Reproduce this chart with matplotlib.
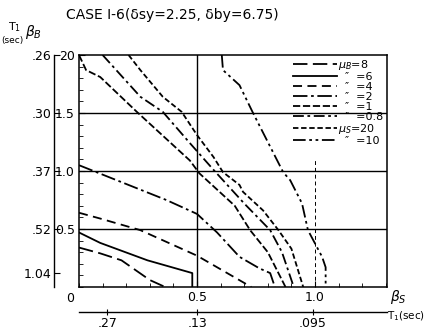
import matplotlib
matplotlib.use("Agg")
import matplotlib.pyplot as plt
from matplotlib.ticker import MultipleLocator

# ---- data ----
mu_b8_x = [0.0, 0.09, 0.18, 0.30, 0.365]
mu_b8_y = [0.34, 0.29, 0.23, 0.06, 0.0]

mu_b6_x = [0.0, 0.09, 0.29, 0.48, 0.48]
mu_b6_y = [0.47, 0.38, 0.23, 0.12, 0.0]

mu_b4_x = [0.0, 0.09, 0.26, 0.50, 0.73]
mu_b4_y = [0.64, 0.59, 0.49, 0.27, 0.0]

mu_b2_x = [0.0, 0.37, 0.50, 0.585, 0.68, 0.765, 0.81, 0.83]
mu_b2_y = [1.05, 0.75, 0.63, 0.47, 0.26, 0.16, 0.12, 0.0]

mu_b1_x = [0.0, 0.03, 0.09, 0.245, 0.47, 0.51, 0.66, 0.725, 0.80, 0.875]
mu_b1_y = [2.0, 1.87, 1.81, 1.51, 1.09, 0.98, 0.70, 0.49, 0.30, 0.0]

mu_b08_x = [0.10, 0.26, 0.355, 0.47, 0.57, 0.70, 0.81, 0.86, 0.91]
mu_b08_y = [2.0, 1.64, 1.51, 1.24, 1.01, 0.72, 0.49, 0.30, 0.0]

mu_s20_x = [0.21, 0.26, 0.355, 0.435, 0.50, 0.57, 0.61, 0.68, 0.695, 0.78, 0.845, 0.90, 0.95]
mu_s20_y = [2.0, 1.87, 1.64, 1.51, 1.31, 1.12, 0.99, 0.88, 0.82, 0.66, 0.49, 0.33, 0.0]

mu_s10_x = [0.605, 0.61, 0.68, 0.735, 0.865, 0.895, 0.945, 0.97, 1.03, 1.045, 1.045]
mu_s10_y = [2.0, 1.87, 1.74, 1.51, 0.99, 0.92, 0.72, 0.49, 0.26, 0.17, 0.0]

series = [
    (mu_b8_x, mu_b8_y, r"$\mu_B$=8", (0, (8, 3))),
    (mu_b6_x, mu_b6_y, "  \u2033  =6", "-"),
    (mu_b4_x, mu_b4_y, "  \u2033  =4", (0, (5, 3))),
    (mu_b2_x, mu_b2_y, "  \u2033  =2", (0, (8, 2, 1.5, 2))),
    (mu_b1_x, mu_b1_y, "  \u2033  =1", (0, (4, 1.5))),
    (mu_b08_x, mu_b08_y, "  \u2033  =0.8", (0, (6, 2, 1.5, 2))),
    (mu_s20_x, mu_s20_y, r"$\mu_S$=20", (0, (3, 1.5))),
    (mu_s10_x, mu_s10_y, "  \u2033  =10", (0, (7, 2, 1.5, 2, 1.5, 2))),
]

y_ticks = [0.5, 1.0, 1.5, 2.0]
y_ticklabels = ["0.5", "1.0", "1.5", "20"]
x_ticks = [0.5, 1.0]
x_ticklabels = ["0.5", "1.0"]
t_left_ticks = [2.0, 1.5, 1.0, 0.5, 0.12]
t_left_labels = [".26", ".30", ".37", ".52", "1.04"]
t_bottom_ticks = [0.12, 0.5, 0.99]
t_bottom_labels = [".27", ".13", ".095"]

plt.rcParams['font.family'] = ['DejaVu Sans']

fig = plt.figure(figsize=(4.27, 3.29), dpi=100)
ax = fig.add_axes([79/427, 1-287/329, 308/427, 232/329])
ax.set_xlim(0, 1.305)
ax.set_ylim(0, 2.0)

# grid lines
for yv in [0.5, 1.0, 1.5]:
    ax.axhline(yv, color="black", lw=1.0)
ax.axvline(0.5, color="black", lw=1.0)
ax.axvline(1.0, ymax=0.55, color="black", lw=0.7, ls=(0, (4, 3)))

for xs, ys, lab, ls in series:
    ax.plot(xs, ys, color="black", lw=1.3, ls=ls, label=lab)

ax.set_xticks(x_ticks)
ax.set_xticklabels(x_ticklabels)
ax.set_yticks(y_ticks)
ax.set_yticklabels(y_ticklabels)
ax.xaxis.set_minor_locator(MultipleLocator(0.1))
ax.yaxis.set_minor_locator(MultipleLocator(0.1))
ax.tick_params(axis="both", which="both", direction="in", top=False, right=False,
               labelsize=9, pad=3)
ax.tick_params(which="major", length=4)
ax.tick_params(which="minor", length=3)
for s in ax.spines.values():
    s.set_linewidth(1.1)

ax.text(-0.03, -0.05, "0", transform=ax.transAxes, ha="center", va="center", fontsize=9)

leg = ax.legend(loc="upper right", frameon=False, fontsize=8, handlelength=4.0,
                labelspacing=0.0, handletextpad=0.1, borderaxespad=0.1,
                borderpad=0.2)

# secondary (period) axes
sy = ax.secondary_yaxis(-0.081)
sy.set_yticks(t_left_ticks)
sy.set_yticklabels(t_left_labels)
sy.tick_params(direction="in", length=4, labelsize=9, pad=2)
sy.spines["left"].set_linewidth(1.0)

sx = ax.secondary_xaxis(-0.108)
sx.set_xticks(t_bottom_ticks)
sx.set_xticklabels(t_bottom_labels)
sx.tick_params(direction="inout", length=5, labelsize=9, pad=1)
sx.spines["bottom"].set_linewidth(1.0)

fig.text(172/427, 1-15/329, "CASE I-6(\u03b4sy=2.25, \u03b4by=6.75)", ha="center", va="center",
         fontsize=10)
fig.text(8/427, 1-27/329, "T$_1$", ha="left", va="center", fontsize=8)
fig.text(1/427, 1-40/329, "(sec)", ha="left", va="center", fontsize=6.5)
fig.text(25/427, 1-32/329, r"$\beta_B$", ha="left", va="center", fontsize=10)
fig.text(390/427, 1-297/329, r"$\beta_S$", ha="left", va="center", fontsize=10)
fig.text(387/427, 1-316/329, "T$_1$(sec)", ha="left", va="center", fontsize=7.5)

fig.savefig("out.png", dpi=100)
